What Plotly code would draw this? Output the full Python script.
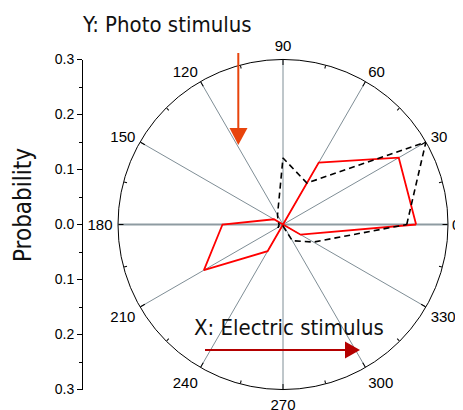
import plotly.graph_objects as go

# ---------------- data ----------------
ANGLES = [0, 30, 60, 90, 120, 150, 180, 210, 240, 270, 300, 330]
RED_R = [0.242, 0.243, 0.130, 0.0, 0.0, 0.019, 0.110, 0.166, 0.056, 0.0, 0.0, 0.037]
BLACK_R = [0.225, 0.300, 0.087, 0.121, 0.020, 0.010, 0.007, 0.010, 0.006, 0.003, 0.034, 0.064]
RMAX = 0.3
ANGLE_TICKS = [0, 30, 60, 90, 120, 150, 180, 210, 240, 270, 300, 330]
ANGLE_TICKTEXT = ["0", "30", "60", "90", "120", "150", "180", "210", "240", "270", "300", "330"]
MINOR_ANGLES = [15, 45, 75, 105, 135, 165, 195, 225, 255, 285, 315, 345]
Y_TICKS = [-0.3, -0.2, -0.1, 0.0, 0.1, 0.2, 0.3]
Y_TICKTEXT = ["0.3", "0.2", "0.1", "0.0", "0.1", "0.2", "0.3"]

# ---------------- geometry ----------------
# page body has an 8px margin, so the figure starts at (8, 8) in the window
OFF = 8
W, H = 463 - OFF, 410 - OFF
CX, CY, R = 283.0, 224.5, 165.0


def px(x):
    return (x - OFF) / W


def py(y):
    return 1 - (y - OFF) / H


dom_x = [px(CX - R), px(CX + R)]
dom_y = [py(CY + R), py(CY - R)]

NARROW = "Liberation Sans Narrow, Arial Narrow, DejaVu Sans Condensed, sans-serif"
ARIAL = "Liberation Sans, Arial, sans-serif"

# the "0" label sits at the very right edge; draw it as an annotation so it stays in view
polar_ticktext = ["" if t == "0" else t for t in ANGLE_TICKTEXT]

fig = go.Figure()

# thick 0-180 axis line
fig.add_trace(go.Scatterpolar(
    theta=[180, 0], r=[RMAX, RMAX], mode="lines",
    line=dict(color="#8e9ba2", width=2), hoverinfo="skip", showlegend=False,
    subplot="polar"))

fig.add_trace(go.Scatterpolar(
    theta=ANGLES + [ANGLES[0]], r=RED_R + [RED_R[0]], mode="lines",
    line=dict(color="#ff0000", width=1.8), showlegend=False, subplot="polar"))

fig.add_trace(go.Scatterpolar(
    theta=ANGLES + [ANGLES[0]], r=BLACK_R + [BLACK_R[0]], mode="lines",
    line=dict(color="black", width=1.6, dash="6px,4px"), showlegend=False,
    subplot="polar"))

# dummies for tick overlay subplots
for sp in ("polar2", "polar3"):
    fig.add_trace(go.Scatterpolar(theta=[None], r=[None], mode="lines",
                                  showlegend=False, hoverinfo="skip", subplot=sp))
# dummy for the left probability axis
fig.add_trace(go.Scatter(x=[None], y=[None], mode="lines", showlegend=False,
                         hoverinfo="skip", xaxis="x", yaxis="y"))


def tick_overlay(vals, length):
    return dict(
        domain=dict(x=dom_x, y=dom_y),
        bgcolor="rgba(0,0,0,0)",
        angularaxis=dict(
            rotation=0, direction="counterclockwise",
            tickmode="array", tickvals=vals,
            ticks="inside", ticklen=length, tickwidth=1, tickcolor="black",
            showticklabels=False, showline=False, showgrid=False),
        radialaxis=dict(range=[0, RMAX], visible=False),
    )


fig.update_layout(
    template="none",
    width=W, height=H,
    margin=dict(l=0, r=0, t=0, b=0, autoexpand=False),
    paper_bgcolor="white", plot_bgcolor="rgba(0,0,0,0)",
    font=dict(family=ARIAL, color="black"),
    polar=dict(
        domain=dict(x=dom_x, y=dom_y),
        bgcolor="white",
        angularaxis=dict(
            rotation=0, direction="counterclockwise",
            tickmode="array", tickvals=ANGLE_TICKS, ticktext=polar_ticktext,
            ticks="outside", ticklen=2, tickwidth=1, tickcolor="rgba(0,0,0,0)",
            showline=True, linecolor="black", linewidth=1,
            showgrid=True, gridcolor="#7f8e96", gridwidth=1,
            tickfont=dict(family=ARIAL, size=15, color="black")),
        radialaxis=dict(range=[0, RMAX], showline=False, showticklabels=False,
                        ticks="", showgrid=False),
    ),
    polar2=tick_overlay(ANGLE_TICKS, 5),
    polar3=tick_overlay(MINOR_ANGLES, 3),
    xaxis=dict(visible=False, domain=[0, 0.05], range=[0, 1], automargin=False),
    yaxis=dict(
        anchor="free", position=px(82), side="left", automargin=False,
        domain=dom_y, range=[-RMAX, RMAX],
        tickmode="array", tickvals=Y_TICKS, ticktext=Y_TICKTEXT,
        ticks="outside", ticklen=5, tickwidth=1, tickcolor="black",
        showline=True, linecolor="black", linewidth=1,
        showgrid=False, zeroline=False,
        tickfont=dict(family=ARIAL, size=14, color="black"),
        minor=dict(dtick=0.05, tick0=0, ticks="outside", ticklen=3,
                   tickcolor="black", tickwidth=1),
    ),
    annotations=[
        dict(text=ANGLE_TICKTEXT[0], x=px(461), y=py(CY), xref="paper", yref="paper",
             xanchor="right", yanchor="middle", showarrow=False, borderpad=0,
             font=dict(family=ARIAL, size=15, color="black")),
        dict(text="Y: Photo stimulus", x=px(80), y=py(24), xref="paper", yref="paper",
             xanchor="left", yanchor="middle", showarrow=False,
             font=dict(family=NARROW, size=22, color="#111111")),
        dict(text="X: Electric stimulus", x=px(192), y=py(327), xref="paper", yref="paper",
             xanchor="left", yanchor="middle", showarrow=False,
             font=dict(family=NARROW, size=22, color="#111111")),
        dict(text="Probability", x=px(23), y=py(205), xref="paper", yref="paper",
             xanchor="center", yanchor="middle", showarrow=False, textangle=-90,
             font=dict(family=NARROW, size=24, color="#111111")),
    ],
    shapes=[
        # orange arrow (photo stimulus)
        dict(type="line", xref="paper", yref="paper",
             x0=px(238.3), y0=py(53), x1=px(238.3), y1=py(130),
             line=dict(color="#e8440c", width=2)),
        dict(type="path", xref="paper", yref="paper",
             path=f"M {px(229.5)},{py(128)} L {px(247.5)},{py(128)} L {px(238.3)},{py(145)} Z",
             fillcolor="#e8440c", line=dict(color="#e8440c", width=0)),
        # dark red arrow (electric stimulus)
        dict(type="line", xref="paper", yref="paper",
             x0=px(205), y0=py(350), x1=px(347), y1=py(350),
             line=dict(color="#b40000", width=2)),
        dict(type="path", xref="paper", yref="paper",
             path=f"M {px(345)},{py(341.5)} L {px(345)},{py(358.5)} L {px(360)},{py(350)} Z",
             fillcolor="#b40000", line=dict(color="#b40000", width=0)),
    ],
)

fig.write_html("out.html")
